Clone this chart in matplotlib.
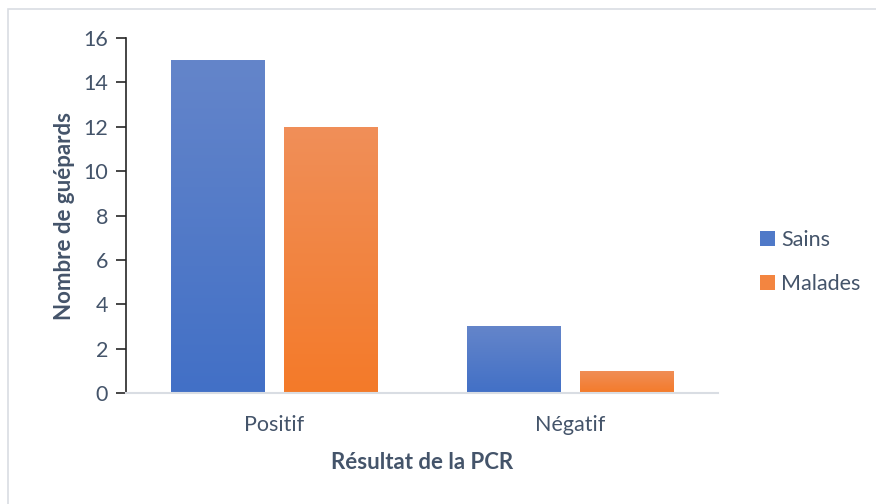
import numpy as np
import matplotlib.pyplot as plt
from matplotlib.colors import LinearSegmentedColormap
from matplotlib.patches import Rectangle, Patch

# Data
categories = ['Positif', 'Négatif']
sains = [15, 3]
malades = [12, 1]
series_names = ['Sains', 'Malades']

plt.rcParams['font.family'] = ['Lato', 'DejaVu Sans']
text_col = '#44546a'

fig = plt.figure(figsize=(8.76, 5.04), dpi=100)
ax = fig.add_axes([0.1438, 0.2202, 0.6758, 0.7044])

# light border round the whole chart
fig.patches.append(Rectangle((8 / 876, -0.1), 1.2, 1 - 9 / 504 + 0.1,
                             transform=fig.transFigure, fill=False,
                             edgecolor='#d9dde3', linewidth=1.2))

x = np.arange(len(categories))
w = 0.315
off = 0.19

blue_cmap = LinearSegmentedColormap.from_list('b', ['#4270c6', '#6485ca'])
orange_cmap = LinearSegmentedColormap.from_list('o', ['#f47a29', '#f08f59'])

bars1 = ax.bar(x - off, sains, w, color='none', label=series_names[0])
bars2 = ax.bar(x + off, malades, w, color='none', label=series_names[1])

grad = np.linspace(0, 1, 256).reshape(-1, 1)
for bars, cmap in [(bars1, blue_cmap), (bars2, orange_cmap)]:
    for b in bars:
        x0, y0 = b.get_x(), b.get_y()
        im = ax.imshow(grad, cmap=cmap, origin='lower', aspect='auto',
                       extent=(x0, x0 + b.get_width(), y0, y0 + b.get_height()),
                       zorder=2)
        im.set_clip_path(b)

ax.set_xlim(-0.5, 1.5)
ax.set_ylim(0, 16)
ax.set_yticks(range(0, 17, 2))
ax.set_xticks(x)
ax.set_xticklabels(categories)

for s in ['top', 'right']:
    ax.spines[s].set_visible(False)
ax.spines['left'].set_color('#262626')
ax.spines['left'].set_linewidth(1.2)
ax.spines['bottom'].set_color('#d9dde3')
ax.spines['bottom'].set_linewidth(1.5)

ax.tick_params(axis='y', length=7, width=1.2, color='#262626',
               labelsize=15.5, labelcolor=text_col, pad=6)
ax.tick_params(axis='x', length=0, labelsize=15.5, labelcolor=text_col, pad=16)

ax.set_ylabel('Nombre de guépards', fontsize=16, fontweight='bold',
              color=text_col, labelpad=6)
ax.set_xlabel('Résultat de la PCR', fontsize=16, fontweight='bold',
              color=text_col, labelpad=12)

handles = [Patch(facecolor='#4f79c8', label=series_names[0]),
           Patch(facecolor='#f38540', label=series_names[1])]
leg = fig.legend(handles=handles, loc='center left', bbox_to_anchor=(0.845, 0.48),
                 frameon=False, fontsize=15.5, handlelength=0.7, handleheight=0.7,
                 handletextpad=0.3, labelspacing=1.15)
for t in leg.get_texts():
    t.set_color(text_col)

fig.savefig('out.png', dpi=100)
